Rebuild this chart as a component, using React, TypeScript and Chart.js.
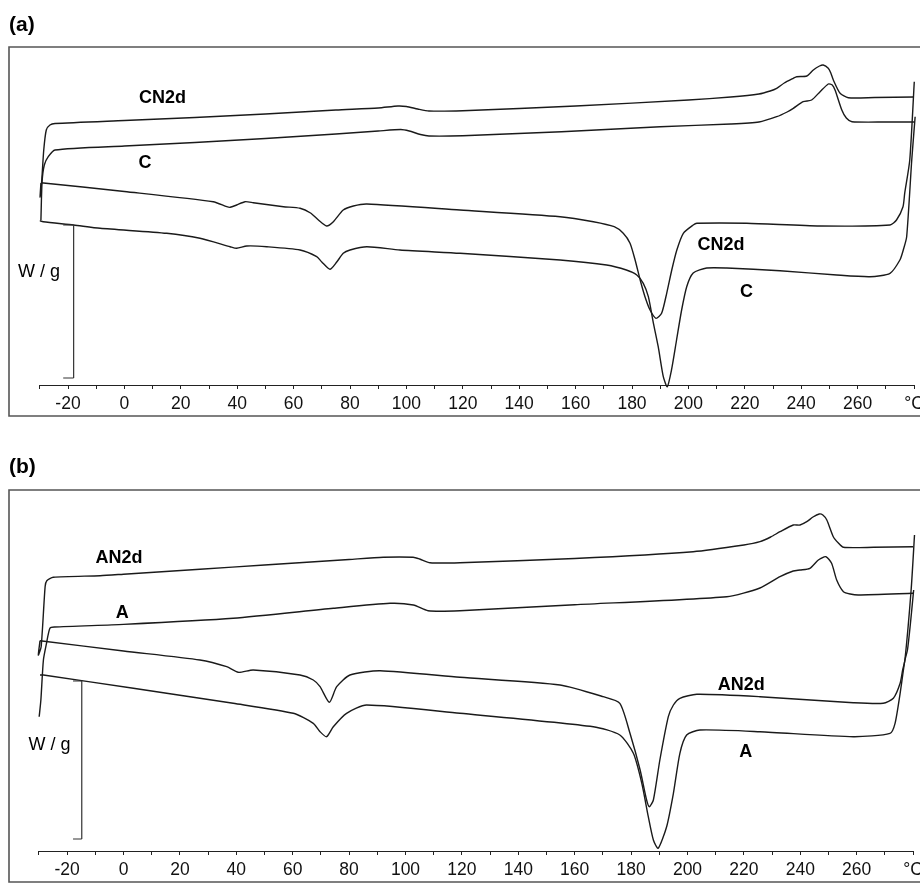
import React, { useEffect, useRef } from 'react';
import { Chart, registerables } from 'chart.js';
Chart.register(...registerables);

const FONT = '"Liberation Sans", Arial, Helvetica, sans-serif';

// Temperature axis
const tMin = -30;
const tMax = 280;
const labeledTicks = [-20, 0, 20, 40, 60, 80, 100, 120, 140, 160, 180, 200, 220, 240, 260];
const unitLabel = '°C';

// ---------- Panel (a) ----------
const aCN2dHeatT = [-29.6, -29.9, -29.3, -28.6, -27.7, -26.4, -24.6, 0, 25, 50, 75, 90, 97, 100, 104, 108, 120, 160, 200, 215, 225, 229, 231.3, 234, 237.2, 238.4, 242, 244.3, 246.5, 247.8, 249.6, 250.5, 251.4, 253.8, 256.7, 266, 280];
const aCN2dHeatW = [2.02, 1.88, 2.05, 2.35, 2.55, 2.6, 2.615, 2.645, 2.675, 2.71, 2.75, 2.77, 2.79, 2.785, 2.76, 2.74, 2.743, 2.79, 2.85, 2.88, 2.91, 2.94, 2.967, 3.02, 3.067, 3.083, 3.09, 3.15, 3.19, 3.2, 3.167, 3.12, 3.05, 2.917, 2.873, 2.875, 2.88];

const aCHeatT = [-29.6, -29.2, -28.4, -27, -24.6, 0, 25, 50, 75, 90, 98, 101, 105, 108, 120, 155, 190, 215, 225, 231.3, 235, 237.2, 240.7, 243.7, 246.7, 249.6, 251, 252, 254.4, 256, 258, 270, 280];
const aCHeatW = [1.65, 2.03, 2.2, 2.283, 2.35, 2.39, 2.425, 2.465, 2.51, 2.54, 2.555, 2.54, 2.505, 2.49, 2.493, 2.533, 2.583, 2.61, 2.63, 2.683, 2.73, 2.767, 2.833, 2.85, 2.933, 3.01, 3.0, 2.95, 2.75, 2.67, 2.633, 2.63, 2.63];

const aCN2dCoolT = [280.1, 278.5, 276.7, 276.1, 273.8, 271.5, 246.6, 220.7, 203, 201.7, 198.2, 195.9, 194.1, 192.3, 190.5, 188.5, 186.4, 184.6, 182.9, 181.1, 179.3, 176.9, 173.7, 166.3, 154.5, 119, 86, 81.2, 77.6, 74.1, 71.7, 68.8, 66, 62.3, 56.4, 45.7, 42.8, 39.8, 37.5, 36.3, 31.5, 0, -29.6];
const aCN2dCoolW = [3.033, 2.25, 1.917, 1.783, 1.65, 1.6, 1.59, 1.617, 1.617, 1.6, 1.517, 1.35, 1.15, 0.917, 0.717, 0.667, 0.75, 0.883, 1.05, 1.25, 1.417, 1.517, 1.583, 1.633, 1.683, 1.75, 1.81, 1.79, 1.75, 1.633, 1.59, 1.65, 1.72, 1.767, 1.783, 1.823, 1.833, 1.8, 1.777, 1.783, 1.833, 1.935, 2.023];

const aCCoolT = [280.4, 279.2, 277.4, 276.2, 275, 271.5, 264.4, 252.6, 232.5, 213.6, 206.5, 201.7, 199.4, 197.6, 195.8, 194, 192.5, 191.1, 189.3, 187.6, 185.8, 184, 181.7, 178, 171, 154.5, 119, 97.7, 86, 80, 77.6, 75.3, 72.9, 70, 68.2, 62.3, 50.5, 43.4, 39.8, 37.5, 26.8, 15, -8.6, -18, -28.8, -30];
const aCCoolW = [2.683, 2.25, 1.483, 1.35, 1.25, 1.117, 1.083, 1.1, 1.143, 1.17, 1.17, 1.12, 0.983, 0.75, 0.45, 0.15, -0.017, 0.083, 0.383, 0.617, 0.883, 1.017, 1.1, 1.15, 1.2, 1.25, 1.317, 1.35, 1.383, 1.35, 1.317, 1.23, 1.157, 1.23, 1.283, 1.35, 1.383, 1.39, 1.367, 1.383, 1.467, 1.517, 1.567, 1.6, 1.633, 1.643];

// ---------- Panel (b) ----------
const bAN2dHeatT = [-29.6, -30.2, -29.2, -27.8, -27.2, -24.9, -8.3, 0, 27.1, 50, 80, 92.1, 102.7, 105, 108.7, 119.3, 160, 202, 220, 225.7, 229.5, 232.8, 237.5, 239.9, 242.3, 244.5, 246.7, 248, 249.4, 251.7, 253.5, 255.3, 266, 280];
const bAN2dHeatW = [2.103, 1.96, 2.043, 2.643, 2.703, 2.737, 2.753, 2.768, 2.818, 2.86, 2.915, 2.937, 2.937, 2.92, 2.883, 2.883, 2.925, 2.993, 3.06, 3.093, 3.14, 3.193, 3.26, 3.26, 3.293, 3.34, 3.37, 3.36, 3.31, 3.143, 3.08, 3.037, 3.037, 3.043];

const bAHeatT = [-29.9, -29.3, -28.4, -27.3, -26.1, -24.5, 0, 38.9, 74.4, 94.5, 102.8, 108, 119.3, 160, 213.9, 225.7, 232.8, 237.5, 239.9, 243.4, 246.4, 249.1, 251.1, 252.9, 255.3, 257.7, 260.6, 280];
const bAHeatW = [1.343, 1.51, 1.91, 2.077, 2.227, 2.24, 2.266, 2.327, 2.427, 2.477, 2.46, 2.403, 2.403, 2.463, 2.543, 2.63, 2.743, 2.8, 2.81, 2.827, 2.91, 2.943, 2.877, 2.71, 2.593, 2.57, 2.56, 2.577];

const bAN2dCoolT = [280.5, 279.3, 277.1, 276.3, 275.4, 273, 269.4, 258.8, 225.7, 203.3, 197.3, 195, 193.2, 190.2, 187.9, 186.5, 185.5, 183.2, 179.6, 176, 170.1, 154.8, 119.3, 91, 80.3, 75.6, 73, 69.7, 67.3, 62.6, 46, 40.7, 36.6, 27.1, 0, -29.6];
const bAN2dCoolW = [3.16, 2.61, 1.91, 1.81, 1.677, 1.527, 1.477, 1.483, 1.543, 1.567, 1.527, 1.46, 1.343, 0.91, 0.51, 0.443, 0.51, 0.81, 1.177, 1.477, 1.543, 1.66, 1.737, 1.803, 1.76, 1.643, 1.487, 1.643, 1.71, 1.76, 1.81, 1.787, 1.843, 1.91, 2.0, 2.103];

const bACoolT = [280.2, 279, 278, 277.1, 275.4, 273.6, 271.8, 258.8, 225.7, 204.4, 199.7, 197.3, 195, 192.6, 189.6, 187.9, 186.1, 183.8, 180.8, 176, 166.6, 119.3, 86.2, 79.1, 74.4, 72, 69.7, 67.3, 60.2, 38.9, 3.5, -28.4, -29.6];
const bACoolW = [2.61, 2.26, 2.01, 1.91, 1.577, 1.277, 1.177, 1.143, 1.193, 1.21, 1.16, 0.977, 0.577, 0.243, 0.027, 0.11, 0.343, 0.677, 0.977, 1.16, 1.243, 1.377, 1.46, 1.377, 1.243, 1.143, 1.193, 1.277, 1.377, 1.477, 1.627, 1.76, 1.76];

type Curve = { t: number[]; w: number[] };
type Label = { text: string; t: number; w: number };
type PanelCfg = {
  tag: string;
  height: number;
  yMax: number;
  padding: { left: number; right: number; top: number; bottom: number };
  frame: { left: number; top: number; bottom: number };
  tagY: number;
  curves: Curve[];
  labels: Label[];
  unit: { t: number; w: number };
  bar: { t: number; tFrom: number; wTop: number; wBottom: number };
};

const panelA: PanelCfg = {
  tag: '(a)',
  height: 440,
  yMax: 3.38,
  padding: { left: 39.8, right: 6, top: 47, bottom: 27 },
  frame: { left: 9, top: 47, bottom: 416 },
  tagY: 25,
  curves: [
    { t: aCN2dHeatT, w: aCN2dHeatW },
    { t: aCHeatT, w: aCHeatW },
    { t: aCN2dCoolT, w: aCN2dCoolW },
    { t: aCCoolT, w: aCCoolW },
  ],
  labels: [
    { text: 'CN2d', t: 13.5, w: 2.87 },
    { text: 'C', t: 7.3, w: 2.22 },
    { text: 'CN2d', t: 211.6, w: 1.4 },
    { text: 'C', t: 220.6, w: 0.93 },
  ],
  unit: { t: -30.3, w: 1.13 },
  bar: { t: -18, tFrom: -21.7, wTop: 1.6, wBottom: 0.07 },
};

const panelB: PanelCfg = {
  tag: '(b)',
  height: 443,
  yMax: 3.61,
  padding: { left: 38.9, right: 6.9, top: 50, bottom: 4 },
  frame: { left: 9, top: 50, bottom: 442 },
  tagY: 27,
  curves: [
    { t: bAN2dHeatT, w: bAN2dHeatW },
    { t: bAHeatT, w: bAHeatW },
    { t: bAN2dCoolT, w: bAN2dCoolW },
    { t: bACoolT, w: bACoolW },
  ],
  labels: [
    { text: 'AN2d', t: -1.6, w: 2.93 },
    { text: 'A', t: -0.4, w: 2.38 },
    { text: 'AN2d', t: 219.1, w: 1.66 },
    { text: 'A', t: 220.7, w: 0.99 },
  ],
  unit: { t: -26.2, w: 1.06 },
  bar: { t: -14.8, tFrom: -17.9, wTop: 1.7, wBottom: 0.12 },
};

function Panel({ cfg, top }: { cfg: PanelCfg; top: number }) {
  const ref = useRef<HTMLCanvasElement | null>(null);
  useEffect(() => {
    if (!ref.current) return;
    const deco = {
      id: 'deco',
      afterDraw(chart: any) {
        const ctx = chart.ctx as CanvasRenderingContext2D;
        const xs = chart.scales.x;
        const ys = chart.scales.y;
        ctx.save();
        // frame
        ctx.strokeStyle = '#555';
        ctx.lineWidth = 1.6;
        ctx.beginPath();
        ctx.moveTo(930, cfg.frame.top);
        ctx.lineTo(cfg.frame.left, cfg.frame.top);
        ctx.lineTo(cfg.frame.left, cfg.frame.bottom);
        ctx.lineTo(930, cfg.frame.bottom);
        ctx.stroke();
        // panel tag
        ctx.fillStyle = '#000';
        ctx.font = `bold 21px ${FONT}`;
        ctx.textAlign = 'left';
        ctx.textBaseline = 'middle';
        ctx.fillText(cfg.tag, 9, cfg.tagY);
        // curve labels
        ctx.font = `bold 18px ${FONT}`;
        ctx.textAlign = 'center';
        for (const l of cfg.labels) {
          ctx.fillText(l.text, xs.getPixelForValue(l.t), ys.getPixelForValue(l.w));
        }
        // unit
        ctx.font = `18px ${FONT}`;
        ctx.fillText('W / g', xs.getPixelForValue(cfg.unit.t), ys.getPixelForValue(cfg.unit.w));
        // scale bar
        const bx = xs.getPixelForValue(cfg.bar.t);
        const bx0 = xs.getPixelForValue(cfg.bar.tFrom);
        const by0 = ys.getPixelForValue(cfg.bar.wTop);
        const by1 = ys.getPixelForValue(cfg.bar.wBottom);
        ctx.strokeStyle = '#333';
        ctx.lineWidth = 1.2;
        ctx.beginPath();
        ctx.moveTo(bx0, by0);
        ctx.lineTo(bx, by0);
        ctx.moveTo(bx, by0);
        ctx.lineTo(bx, by1);
        ctx.moveTo(bx0, by1);
        ctx.lineTo(bx, by1);
        ctx.stroke();
        ctx.restore();
      },
    };
    const chart = new Chart(ref.current, {
      type: 'scatter',
      data: {
        datasets: cfg.curves.map((c) => ({
          data: c.t.map((t, i) => ({ x: t, y: c.w[i] })),
          showLine: true,
          borderColor: '#1a1a1a',
          borderWidth: 1.4,
          pointRadius: 0,
          pointHoverRadius: 0,
          fill: false,
          tension: 0.22,
          clip: false as any,
        })),
      },
      options: {
        animation: false,
        responsive: false,
        events: [],
        layout: { padding: cfg.padding },
        elements: { line: { capBezierPoints: false } },
        plugins: { legend: { display: false }, tooltip: { enabled: false } },
        scales: {
          x: {
            type: 'linear',
            min: tMin,
            max: tMax,
            position: 'bottom',
            border: { display: true, color: '#222', width: 1 },
            grid: { display: true, drawOnChartArea: false, drawTicks: true, tickLength: 4, color: '#222', lineWidth: 1 },
            ticks: {
              stepSize: 10,
              autoSkip: false,
              maxRotation: 0,
              minRotation: 0,
              padding: 5,
              color: '#111',
              font: { family: FONT, size: 17.5 },
              callback: (value: any) => {
                const v = Math.round(Number(value));
                if (v === tMax) return unitLabel;
                return labeledTicks.includes(v) ? String(v) : '';
              },
            },
            afterFit: (s: any) => {
              s.height = 28;
              s.paddingLeft = 0;
              s.paddingRight = 0;
            },
          },
          y: { type: 'linear', display: false, min: 0, max: cfg.yMax },
        },
      },
      plugins: [deco],
    } as any);
    return () => chart.destroy();
  }, [cfg]);
  return (
    <canvas
      ref={ref}
      width={920}
      height={cfg.height}
      style={{ position: 'absolute', left: 0, top, width: 920, height: cfg.height, display: 'block' }}
    />
  );
}

export default function App() {
  return (
    <div style={{ position: 'absolute', left: 0, top: 0, width: 920, height: 883, background: '#fff', overflow: 'hidden' }}>
      <Panel cfg={panelA} top={0} />
      <Panel cfg={panelB} top={440} />
    </div>
  );
}
